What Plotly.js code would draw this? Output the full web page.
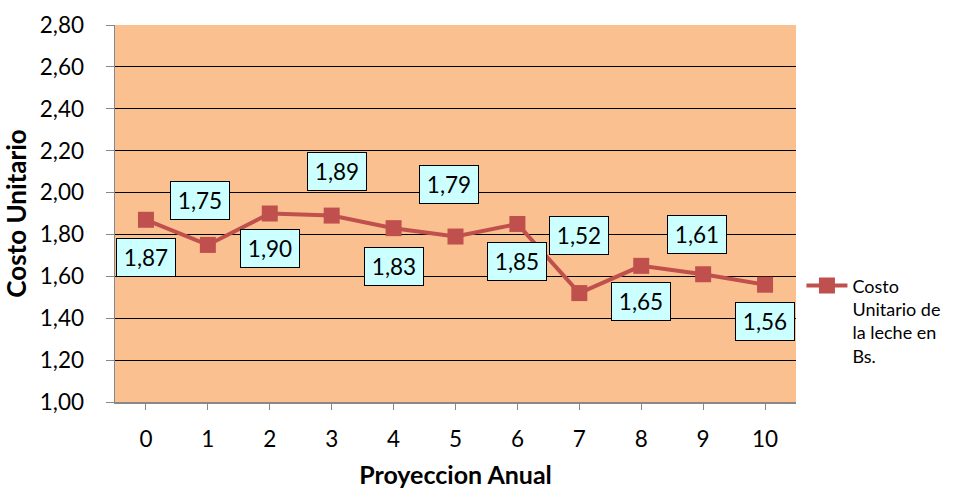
<!DOCTYPE html>
<html><head><meta charset="utf-8">
<script src="https://cdn.plot.ly/plotly-3.0.1.min.js"></script>
<style>body{margin:0;background:#fff}#chart{width:958px;height:489px}</style>
</head><body><div id="chart"></div>
<script>
const years = [0,1,2,3,4,5,6,7,8,9,10];
const costs = [1.87,1.75,1.90,1.89,1.83,1.79,1.85,1.52,1.65,1.61,1.56];
const costLabels = ["1,87","1,75","1,90","1,89","1,83","1,79","1,85","1,52","1,65","1,61","1,56"];
const yTickVals = [1.0,1.2,1.4,1.6,1.8,2.0,2.2,2.4,2.6,2.8];
const yTickText = ["1,00","1,20","1,40","1,60","1,80","2,00","2,20","2,40","2,60","2,80"];
const seriesName = "Costo<br>Unitario de<br>la leche en<br>Bs.";

const FONT = "Lato, 'Open Sans', sans-serif";
const labelOffsets = [[0,38],[-8,-44],[0,35],[5,-44],[0,38],[-7,-52],[0,38],[0,-58],[0,36],[-6,-40],[0,37]];

const annotations = years.map((x,i)=>({
  x: x, y: costs[i], xref:'x', yref:'y', text: costLabels[i],
  showarrow: true, arrowcolor:'rgba(0,0,0,0)', arrowwidth:0.1,
  ax: labelOffsets[i][0], ay: labelOffsets[i][1],
  bgcolor:'#ccffff', bordercolor:'#000', borderwidth:1, borderpad:3,
  width:52, height:31,
  font:{family:FONT, size:22.5, color:'#000'}
}));

Plotly.newPlot('chart', [{
  x: years, y: costs, type:'scatter', mode:'lines+markers', name: seriesName,
  line:{color:'#c0504d', width:4},
  marker:{symbol:'square', size:16, color:'#c0504d'}
}], {
  width:958, height:489,
  margin:{l:115, r:162, t:25, b:87},
  paper_bgcolor:'#fff', plot_bgcolor:'#fac090',
  font:{family:FONT, size:18, color:'#000'},
  showlegend:true,
  legend:{x:1.008, y:0.357, xanchor:'left', yanchor:'top', valign:'top',
    font:{family:FONT, size:18, color:'#000'}, bgcolor:'rgba(0,0,0,0)', itemwidth:41, tracegroupgap:0},
  xaxis:{type:'linear', range:[-0.5,10.5], tickvals:years, ticktext:years.map(String),
    showgrid:false, zeroline:false, showline:true, linecolor:'#888', linewidth:1.5,
    ticks:'outside', ticklen:6, tickcolor:'#888', ticklabelstandoff:10,
    tickfont:{family:FONT, size:22.5},
    title:{text:'<b>Proyeccion Anual</b>', font:{family:FONT, size:25}, standoff:16}},
  yaxis:{range:[1.0,2.8], tickvals:yTickVals, ticktext:yTickText,
    showgrid:true, gridcolor:'#000', gridwidth:1, zeroline:false,
    showline:true, linecolor:'#888', linewidth:1.5,
    ticks:'outside', ticklen:8, tickcolor:'#888', ticklabelstandoff:17,
    tickfont:{family:FONT, size:22.5},
    title:{text:'<b>Costo Unitario</b>', font:{family:FONT, size:26}, standoff:10}},
  annotations: annotations
}, {displayModeBar:false, staticPlot:true});
</script></body></html>
